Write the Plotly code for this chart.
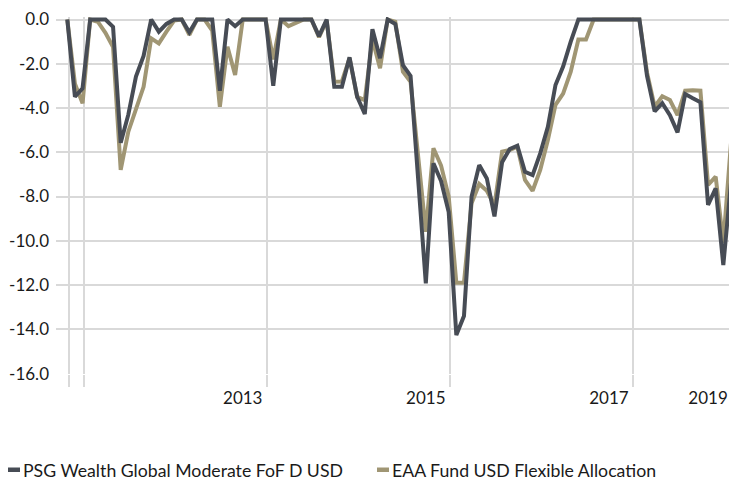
import plotly.graph_objects as go

# ---- data (monthly drawdown, %) ----
month_index = list(range(88))
psg = [0, -3.49, -3.11, 0, 0, 0, -0.33, -5.57, -4.3, -2.58, -1.65, 0, -0.55, -0.2, 0, 0,
       -0.58, 0, 0, 0, -3.22, 0, -0.3, 0, 0, 0, 0, -3.0, 0, 0, 0, 0, 0, -0.75, 0,
       -3.04, -3.04, -1.71, -3.49, -4.27, -0.44, -1.75, 0, -0.2, -2.06, -2.55, -7.2,
       -11.92, -6.5, -7.3, -8.7, -14.26, -13.4, -8.0, -6.58, -7.18, -8.9, -6.45, -5.85,
       -5.7, -6.88, -7.03, -6.05, -4.85, -2.96, -2.13, -1.0, 0, 0, 0, 0, 0, 0, 0, 0, 0,
       -2.55, -4.15, -3.78, -4.32, -5.1, -3.37, -3.56, -3.74, -8.38, -7.63, -11.1, -7.4]
eaa = [0, -2.9, -3.79, 0, -0.1, -0.6, -1.25, -6.8, -5.07, -4.09, -3.04, -0.85, -1.08,
       -0.55, -0.05, 0, -0.7, 0, 0, -0.5, -3.94, -1.23, -2.51, 0, 0, 0, 0, -1.8, 0,
       -0.3, -0.15, 0, 0, -0.8, -0.05, -2.81, -2.8, -1.75, -3.5, -3.64, -0.9, -2.2, 0,
       -0.1, -2.36, -2.81, -6.2, -9.59, -5.82, -6.6, -8.0, -11.9, -11.9, -8.3, -7.43,
       -7.74, -8.4, -5.97, -5.9, -5.75, -7.25, -7.74, -6.8, -5.45, -3.86, -3.35, -2.36,
       -0.9, -0.9, 0, 0, 0, 0, 0, 0, 0, -2.4, -3.94, -3.47, -3.64, -4.32, -3.22, -3.2,
       -3.22, -7.48, -7.1, -10.1, -5.6]

series_names = ["PSG Wealth Global Moderate FoF D USD", "EAA Fund USD Flexible Allocation"]
series_colors = ["#474c55", "#a09674"]

y_tick_vals = [0, -2, -4, -6, -8, -10, -12, -14, -16]
y_tick_text = ["0.0", "-2.0", "-4.0", "-6.0", "-8.0", "-10.0", "-12.0", "-14.0", "-16.0"]
x_label_pos = [23, 47, 71, 84]
x_label_text = ["2013", "2015", "2017", "2019"]
x_grid_pos = [0.2, 2.2, 26.15, 50.15, 74.15]

# ---- layout geometry ----
W, H = 729, 481
L, R, T, B = 56, 0, 17, 107
PW, PH = W - L - R, H - T - B
FONT = "Lato"
GRID = "#d9d9d9"


def px_x(px):
    return (px - L) / PW


def px_y(py):
    return (H - B - py) / PH


fig = go.Figure()
fig.add_trace(go.Scatter(x=month_index, y=eaa, mode="lines", name=series_names[1],
                         line=dict(color=series_colors[1], width=4), showlegend=False))
fig.add_trace(go.Scatter(x=month_index, y=psg, mode="lines", name=series_names[0],
                         line=dict(color=series_colors[0], width=4), showlegend=False))

x_range = [(L - 67.3) / 7.628, (W - 67.3) / 7.628]

fig.update_layout(
    width=W, height=H,
    margin=dict(l=L, r=R, t=T, b=B, pad=0, autoexpand=False),
    paper_bgcolor="white", plot_bgcolor="white",
    font=dict(family=FONT, size=17, color="#1a1a1a"),
    showlegend=False,
    xaxis=dict(range=x_range, tickmode="array", tickvals=x_grid_pos, showticklabels=False,
               ticks="outside", ticklen=12, tickwidth=2, tickcolor=GRID, automargin=False,
               showgrid=True, gridcolor=GRID, gridwidth=2, zeroline=False, showline=False),
    xaxis2=dict(range=x_range, overlaying="x", side="bottom", tickmode="array",
                tickvals=x_label_pos, ticktext=x_label_text, ticks="", showgrid=False,
                zeroline=False, showline=False, ticklabelstandoff=12, automargin=False,
                tickfont=dict(family=FONT, size=17, color="#1a1a1a")),
    yaxis=dict(range=[-16.02, 0.113], tickmode="array", tickvals=y_tick_vals,
               ticktext=y_tick_text, showgrid=True, gridcolor=GRID, gridwidth=2,
               zeroline=False, showline=False, ticks="", ticklabelstandoff=6,
               automargin=False, tickfont=dict(family=FONT, size=17, color="#1a1a1a")),
)

# invisible trace so xaxis2 renders
fig.add_trace(go.Scatter(x=[x_range[0]], y=[None], xaxis="x2", yaxis="y",
                         mode="lines", showlegend=False, hoverinfo="skip"))

# legend (keys + text)
legend_items = [(8, 21), (377, 390)]
for (kx, tx), name, col in zip(legend_items, series_names, series_colors):
    fig.add_shape(type="rect", xref="paper", yref="paper",
                  x0=px_x(kx), x1=px_x(kx + 12), y0=px_y(472), y1=px_y(467.5),
                  fillcolor=col, line=dict(width=0))
    fig.add_annotation(xref="paper", yref="paper", x=px_x(tx), y=px_y(470),
                       xanchor="left", yanchor="middle", showarrow=False,
                       text=name, font=dict(family=FONT, size=17.7, color="#1a1a1a"))

fig.write_html("out.html", config={"displayModeBar": False},
               post_script="document.body.style.margin='0';document.body.style.overflow='hidden';")
